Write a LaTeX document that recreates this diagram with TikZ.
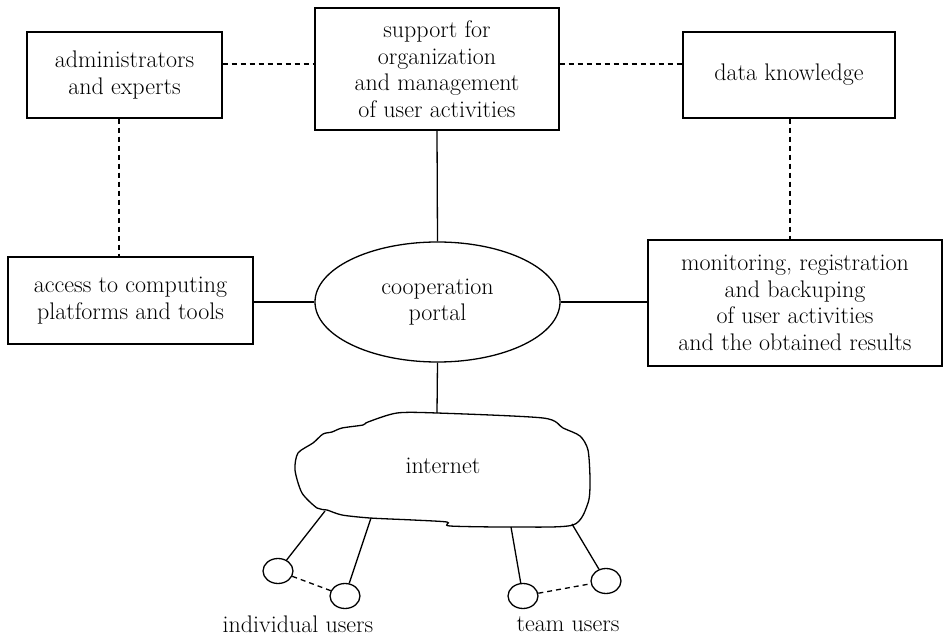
\documentclass[tikz,border=0pt]{standalone}
\usetikzlibrary{shapes.geometric}
\begin{document}
\begin{tikzpicture}[x=1pt,y=-1pt,
  every node/.style={font=\fontsize{24}{26.5}\selectfont},
  box/.style={draw,line width=1.3pt,align=center,inner sep=0pt},
  user/.style={draw,line width=1.3pt,ellipse,minimum width=30pt,minimum height=25pt,inner sep=0pt},
  conn/.style={line width=1.3pt},
  dconn/.style={line width=1.3pt,dash pattern=on 5pt off 4pt}]
\useasboundingbox (0,0) rectangle (943,636);
\node[box,minimum width=195pt,minimum height=86pt] (admin) at (124.5,75) {administrators\\and experts};
\node[box,minimum width=244pt,minimum height=122pt] (support) at (437,69) {support for\\organization\\and management\\of user activities};
\node[box,minimum width=212pt,minimum height=86pt] (data) at (789,75) {data knowledge};
\node[box,minimum width=245pt,minimum height=87pt] (access) at (130.5,300.5) {access to computing\\platforms and tools};
\node[box,minimum width=294pt,minimum height=126pt] (monitor) at (795,303) {monitoring, registration\\and backuping\\of user activities\\and the obtained results};
\node[draw,line width=1.3pt,ellipse,minimum width=245pt,minimum height=120pt,align=center,inner sep=0pt] (portal) at (437.5,302) {cooperation\\portal};
% cloud
\draw[line width=1.3pt] plot[smooth cycle,tension=0.45] coordinates {
 (397,413) (437,413) (543,418) (563,428) (580,436) (588,450) (590,480) (588,503)
 (573,525) (513,527) (450,526) (447,522) (413,520) (370,518) (342,515) (327,510)
 (317,508) (302,493) (295,470) (298,453) (313,443) (323,434) (332,432) (342,428)
 (363,425) (368,422)};
\node (internet) at (443,466) {internet};
\coordinate (ctop) at (437,413);
\coordinate (cb1) at (325,511);
\coordinate (cb2) at (371,518);
\coordinate (cb3) at (511,527);
\coordinate (cb4) at (572,524);
\node[user] (u1) at (278,571) {};
\node[user] (u2) at (345,596) {};
\node[user] (u3) at (523,596) {};
\node[user] (u4) at (606,581) {};
\node (ind) at (298,624) {individual users};
\node (team) at (568,624) {team users};
% connectors
\draw[dconn] (admin.east |- 0,64) -- (support.west |- 0,64);
\draw[dconn] (support.east |- 0,64) -- (data.west |- 0,64);
\draw[dconn] (119,118) coordinate (a1) (a1 |- admin.south) -- (a1 |- access.north);
\draw[dconn] (790,118) coordinate (d1) (d1 |- data.south) -- (d1 |- monitor.north);
\draw[conn] (support.south) -- (portal.north);
\draw[conn] (portal.west) -- (access.east |- portal.west);
\draw[conn] (portal.east) -- (monitor.west |- portal.east);
\draw[conn] (portal.south) -- (ctop);
\draw[conn] (cb1) -- (u1);
\draw[conn] (cb2) -- (u2);
\draw[conn] (cb3) -- (u3);
\draw[conn] (cb4) -- (u4);
\draw[dconn] (u1) -- (u2);
\draw[dconn] (u3) -- (u4);
\end{tikzpicture}
\end{document}
